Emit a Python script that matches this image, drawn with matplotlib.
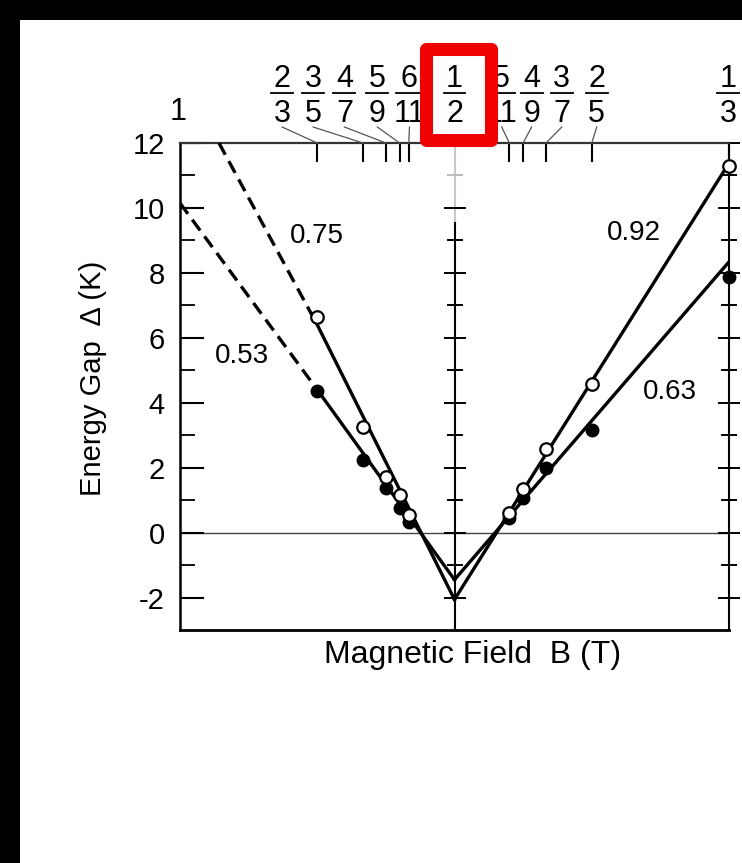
import matplotlib
matplotlib.use("Agg")
import matplotlib.pyplot as plt
from matplotlib.patches import Rectangle
from matplotlib.lines import Line2D
from matplotlib.transforms import blended_transform_factory

plt.rcParams['font.family'] = ['Liberation Sans', 'DejaVu Sans']
plt.rcParams['axes.unicode_minus'] = False

# filling factors either side of nu = 1/2
nu_left = [2/3, 3/5, 4/7, 5/9, 6/11]
nu_right = [5/11, 4/9, 3/7, 2/5, 1/3]

# energy gaps (K): open = upper set, filled = lower set
gap_open_left = [6.65, 3.25, 1.72, 1.17, 0.55]
gap_filled_left = [4.37, 2.25, 1.38, 0.77, 0.34]
gap_open_right = [0.6, 1.35, 2.58, 4.58, 11.3]
gap_filled_right = [0.46, 1.08, 2.0, 3.17, 7.88]

# straight-line fits, labelled by effective mass; leading segments dashed
fit_masses = ['0.75', '0.53', '0.92', '0.63']
fit_x = [[-0.858, -0.5, 0.0], [-1.0, -0.5, 0.0], [0.0, 1.0], [0.0, 1.0]]
fit_y = [[12.0, 6.4, -2.06], [10.15, 4.4, -1.45], [-2.06, 11.38], [-1.45, 8.34]]
fit_dashed = [1, 1, 0, 0]
mass_pos = [(-0.50, 9.14), (-0.774, 5.45), (0.653, 9.23), (0.785, 4.34)]

# fraction labels along the top and where their text sits
frac_num = [2, 3, 4, 5, 6, 1, 5, 4, 3, 2, 1]
frac_den = [3, 5, 7, 9, 11, 2, 11, 9, 7, 5, 3]
frac_text_x = [-0.628, -0.515, -0.401, -0.281, -0.164, 0.0, 0.172, 0.281, 0.391, 0.518, 0.996]


def beff(nu):
    # effective field relative to nu = 1/2, in units where nu = 1/3 sits at 1
    return 1.0 / nu - 2.0


W, H = 742, 863
fig = plt.figure(figsize=(W / 100, H / 100), dpi=100, facecolor='black')
fig.add_artist(Rectangle((20 / W, 0), 1 - 20 / W, 1 - 20 / H, transform=fig.transFigure,
                         facecolor='white', edgecolor='none', zorder=-1))

ax = fig.add_axes([180 / W, 1 - 630 / H, 549 / W, 487 / H])
ax.set_xlim(-1, 1)
ax.set_ylim(-3, 12)

for side, lw in [('left', 1.8), ('bottom', 2.0), ('top', 1.6), ('right', 1.5)]:
    ax.spines[side].set_linewidth(lw)
ax.spines['top'].set_color('#333333')

ax.set_yticks(range(-2, 13, 2))
ax.set_yticks(range(-1, 12, 2), minor=True)
ax.tick_params(axis='y', which='major', direction='in', length=17, width=1.5,
               labelsize=21, pad=11, right=False)
ax.tick_params(axis='y', which='minor', direction='in', length=11, width=1.3, right=False)

top_ticks = [beff(n) for n in nu_left + nu_right]
ax.set_xticks(top_ticks)
ax.tick_params(axis='x', which='major', direction='in', length=14, width=1.5,
               top=True, bottom=False, labeltop=False, labelbottom=False)
ax.tick_params(axis='x', which='minor', top=False, bottom=False)

# zero line and the nu = 1/2 marker line
ax.axhline(0, color='#444444', lw=1.0, zorder=1)
ax.plot([0, 0], [-3, 9.6], color='black', lw=1.5, zorder=1)
ax.plot([0, 0], [9.6, 12], color='#c8c8c8', lw=1.5, zorder=1)

# cross ticks on the middle line and on the right edge
for xc in (0.0, 1.0):
    for yv in range(-2, 13):
        if xc == 0.0 and yv == 12:
            continue
        col = '#bbbbbb' if (xc == 0.0 and yv > 10) else 'black'
        size = 16 if yv % 2 == 0 else 11
        ax.plot([xc], [yv], marker='_', ms=size, mew=1.4, color=col,
                clip_on=False, zorder=2)

# fits
for xs, ys, nd in zip(fit_x, fit_y, fit_dashed):
    if nd:
        ax.plot(xs[:nd + 1], ys[:nd + 1], color='black', lw=2.4,
                linestyle=(0, (4, 2.2)), zorder=3)
    ax.plot(xs[nd:], ys[nd:], color='black', lw=2.4, zorder=3)

for label, (tx, ty) in zip(fit_masses, mass_pos):
    ax.text(tx, ty, label, fontsize=20, ha='center', va='center')

# data points
x_left = [beff(n) for n in nu_left]
x_right = [beff(n) for n in nu_right]
ax.plot(x_left, gap_filled_left, 'o', ms=9, color='black', zorder=4)
ax.plot(x_right, gap_filled_right, 'o', ms=9, color='black', zorder=4, clip_on=False)
ax.plot(x_left, gap_open_left, 'o', ms=9, mfc='white', mec='black', mew=1.6, zorder=5)
ax.plot(x_right, gap_open_right, 'o', ms=9, mfc='white', mec='black', mew=1.6,
        zorder=5, clip_on=False)

# fraction labels with leader lines to their ticks
tr = blended_transform_factory(ax.transData, fig.transFigure)
for num, den, tx in zip(frac_num, frac_den, frac_text_x):
    ax.text(tx, 1 - 87 / H, str(num), transform=tr, fontsize=22, ha='center', va='baseline')
    ax.text(tx, 1 - 122 / H, str(den), transform=tr, fontsize=22, ha='center', va='baseline')
    half = 0.04 if den < 10 else 0.05
    fig.add_artist(Line2D([tx - half, tx + half], [1 - 93 / H, 1 - 93 / H],
                          transform=tr, color='black', lw=1.3))
    nu = num / den
    if nu not in (0.5, 1 / 3):
        fig.add_artist(Line2D([tx, beff(nu)], [1 - 127 / H, 1 - 143 / H],
                              transform=tr, color='#555555', lw=0.9))
ax.text(-1.007, 1 - 120 / H, '1', transform=tr, fontsize=22, ha='center', va='baseline')

ax.set_ylabel('Energy Gap  Δ (K)', fontsize=21)
ax.yaxis.set_label_coords(-0.133, 0.517)
ax.set_xlabel('Magnetic Field  B (T)', fontsize=23, va='top')
ax.xaxis.set_label_coords(0.532, -0.02)

fig.add_artist(Rectangle((425.5 / W, 1 - 140 / H), 65 / W, 90.5 / H, transform=fig.transFigure,
                         fill=False, edgecolor='#f00000', lw=9.4, joinstyle='round', zorder=10))

fig.savefig('out.png', dpi=100, facecolor=fig.get_facecolor())
